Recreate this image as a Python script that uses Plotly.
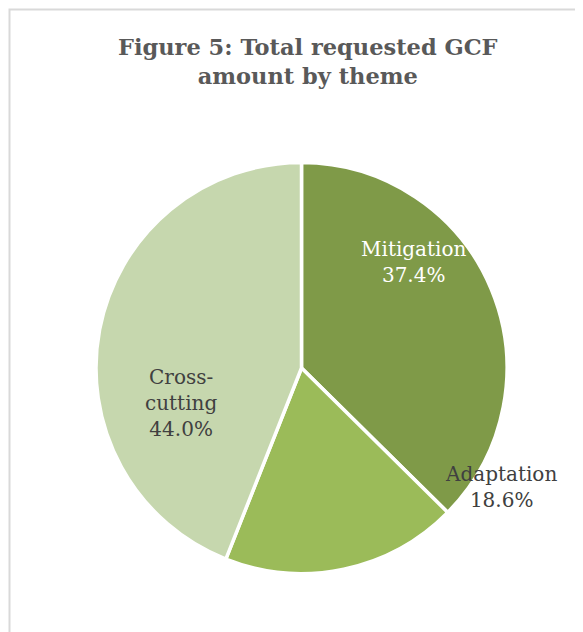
import plotly.graph_objects as go

# Data
themes = ["Mitigation", "Adaptation", "Cross-cutting"]
shares = [37.4, 18.6, 44.0]
label_texts = ["Mitigation<br>37.4%", "Adaptation<br>18.6%", "Cross-<br>cutting<br>44.0%"]

# Styles
colors = ["#7F9A48", "#9BBB59", "#C6D7AE"]
text_colors = ["#FFFFFF", "#404040", "#404040"]
W, H = 583, 632
OFF = 8  # page body margin offset
cx, cy, r = 301.5 - OFF, 368 - OFF, 205.5
# label centers in pixels (x, y from top), page coordinates
label_pos = [(414, 262), (501, 487), (181, 403)]

fig = go.Figure(go.Pie(
    labels=themes,
    values=shares,
    sort=False,
    direction="clockwise",
    rotation=0,
    marker=dict(colors=colors, line=dict(color="#FFFFFF", width=3.5)),
    textinfo="none",
    hoverinfo="label+percent",
    showlegend=False,
    domain=dict(x=[(cx - r) / W, (cx + r) / W], y=[(H - cy - r) / H, (H - cy + r) / H]),
))

for txt, col, (px, py) in zip(label_texts, text_colors, label_pos):
    fig.add_annotation(
        x=(px - OFF) / W, y=1 - (py - OFF) / H, xref="paper", yref="paper",
        text=txt, showarrow=False, xanchor="center", yanchor="middle",
        font=dict(family="DejaVu Serif", size=20, color=col),
    )

fig.add_annotation(
    x=(308 - OFF) / W, y=1 - (61 - OFF) / H, xref="paper", yref="paper",
    text="<b>Figure 5: Total requested GCF<br>amount by theme</b>",
    showarrow=False, xanchor="center", yanchor="middle",
    font=dict(family="DejaVu Serif", size=22.5, color="#595959"),
)

fig.add_shape(
    type="rect", xref="paper", yref="paper",
    x0=(9.5 - OFF) / W, x1=1.05, y0=-0.05, y1=1 - (9.5 - OFF) / H,
    line=dict(color="#D9D9D9", width=2), fillcolor="rgba(0,0,0,0)",
)

fig.update_layout(
    width=W, height=H,
    margin=dict(l=0, r=0, t=0, b=0),
    paper_bgcolor="#FFFFFF",
    plot_bgcolor="#FFFFFF",
)

fig.write_html("out.html")
